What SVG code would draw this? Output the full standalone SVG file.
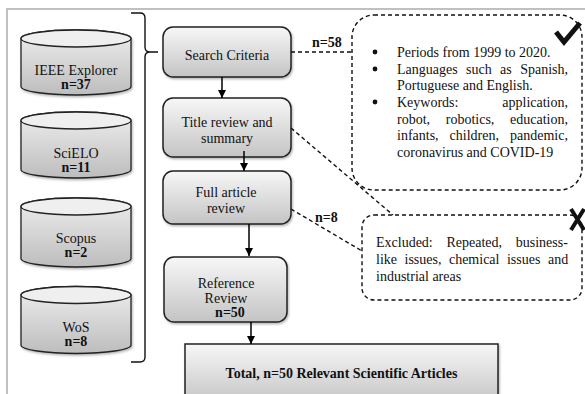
<svg xmlns="http://www.w3.org/2000/svg" width="585" height="394" viewBox="0 0 585 394">
<defs>
  <linearGradient id="gBox" x1="0" y1="0" x2="0" y2="1">
    <stop offset="0" stop-color="#f7f7f7"/>
    <stop offset="1" stop-color="#c4c4c4"/>
  </linearGradient>
  <linearGradient id="gCyl" x1="0" y1="0" x2="0" y2="1">
    <stop offset="0" stop-color="#eeeeee"/>
    <stop offset="1" stop-color="#bdbdbd"/>
  </linearGradient>
  <filter id="sh" x="-10%" y="-10%" width="130%" height="130%">
    <feDropShadow dx="1" dy="1.5" stdDeviation="1" flood-color="#000" flood-opacity="0.3"/>
  </filter>
  <marker id="ah" viewBox="0 0 10 10" refX="10" refY="5" markerWidth="8" markerHeight="8" markerUnits="userSpaceOnUse" orient="auto">
    <path d="M0,0 L10,5 L0,10 z" fill="#000"/>
  </marker>
  <style>
    text { font-family: "Liberation Serif", "Times New Roman", serif; font-size: 14px; fill: #111; }
    .b { font-weight: bold; }
    .c { text-anchor: middle; }
    .node { fill: url(#gBox); stroke: #222; stroke-width: 1.5; filter: url(#sh); }
    .cyl { fill: url(#gCyl); stroke: #222; stroke-width: 1.3; filter: url(#sh); }
    .cyltop { fill: #efefef; stroke: #222; stroke-width: 1.3; }
    .arrow { stroke: #000; stroke-width: 1.5; fill: none; marker-end: url(#ah); }
    .dash { stroke: #111; stroke-width: 1.4; fill: none; stroke-dasharray: 4 3; }
    .mark { stroke: #111; fill: none; stroke-linecap: butt; }
  </style>
</defs>
<rect width="585" height="394" fill="#fff"/>
<!-- frame -->
<path d="M7,400 V9 H590" fill="none" stroke="#c0c0c0" stroke-width="2"/>

<!-- databases -->
<g id="ieee">
  <path class="cyl" d="M21,38.5 V86.5 A55,8.5 0 0 0 131,86.5 V38.5 A55,8.5 0 0 0 21,38.5 z"/>
  <ellipse class="cyltop" cx="76" cy="38.5" rx="55" ry="8.5"/>
  <text class="c" x="76" y="75">IEEE Explorer</text>
  <text class="c b" x="76" y="89">n=37</text>
</g>
<g id="scielo">
  <path class="cyl" d="M21,120.5 V169.5 A55,8.5 0 0 0 131,169.5 V120.5 A55,8.5 0 0 0 21,120.5 z"/>
  <ellipse class="cyltop" cx="76" cy="120.5" rx="55" ry="8.5"/>
  <text class="c" x="76" y="158">SciELO</text>
  <text class="c b" x="76" y="172">n=11</text>
</g>
<g id="scopus">
  <path class="cyl" d="M21,206.5 V258.5 A55,8.5 0 0 0 131,258.5 V206.5 A55,8.5 0 0 0 21,206.5 z"/>
  <ellipse class="cyltop" cx="76" cy="206.5" rx="55" ry="8.5"/>
  <text class="c" x="76" y="243">Scopus</text>
  <text class="c b" x="76" y="257">n=2</text>
</g>
<g id="wos">
  <path class="cyl" d="M21,295 V345 A55,8.5 0 0 0 131,345 V295 A55,8.5 0 0 0 21,295 z"/>
  <ellipse class="cyltop" cx="76" cy="295" rx="55" ry="8.5"/>
  <text class="c" x="76" y="332">WoS</text>
  <text class="c b" x="76" y="346">n=8</text>
</g>

<!-- brace -->
<g id="brace">
  <path d="M131,13 H140 Q145,13 145,18 V47 Q145,52 150,52 H158 M150,52 Q145,52 145,57 V357 Q145,362 140,362 H131" fill="none" stroke="#111" stroke-width="1.4"/>
</g>

<!-- process nodes -->
<g id="search">
  <rect class="node" x="163" y="27" width="128" height="50" rx="10"/>
  <text class="c" x="227" y="60">Search Criteria</text>
</g>
<g id="title">
  <rect class="node" x="163" y="98" width="128" height="59" rx="10"/>
  <text class="c" x="227" y="127">Title review and</text>
  <text class="c" x="227" y="143">summary</text>
</g>
<g id="full">
  <rect class="node" x="163" y="171" width="128" height="53" rx="10"/>
  <text class="c" x="226" y="197">Full article</text>
  <text class="c" x="226" y="213">review</text>
</g>
<g id="reference">
  <rect class="node" x="164" y="257" width="123" height="65" rx="10"/>
  <text class="c" x="226" y="288">Reference</text>
  <text class="c" x="226" y="303">Review</text>
  <text class="c b" x="230" y="317">n=50</text>
</g>
<g id="total">
  <rect class="node" x="185" y="344" width="313" height="60" rx="0"/>
  <text class="c b" x="341.5" y="378">Total, n=50 Relevant Scientific Articles</text>
</g>

<!-- criteria box -->
<g id="criteria">
  <rect class="dash" x="352" y="15" width="230" height="175" rx="22"/>
  <path class="mark" d="M556,32 L564,42 L580,23" stroke-width="5"/>
  <circle cx="375" cy="52" r="2.4" fill="#111"/>
  <circle cx="375" cy="69" r="2.4" fill="#111"/>
  <circle cx="375" cy="102" r="2.4" fill="#111"/>
  <text x="397" y="57">Periods from 1999 to 2020.</text>
  <text x="397" y="73.7" word-spacing="4.9">Languages such as Spanish,</text>
  <text x="397" y="90.3">Portuguese and English.</text>
  <text x="397" y="107">Keywords:</text>
  <text x="568" y="107" text-anchor="end">application,</text>
  <text x="397" y="123.7" word-spacing="12.2">robot, robotics, education,</text>
  <text x="397" y="140.3" word-spacing="7.5">infants, children, pandemic,</text>
  <text x="397" y="157">coronavirus and COVID-19</text>
</g>

<!-- excluded box -->
<g id="excluded">
  <rect class="dash" x="362" y="215" width="220" height="85" rx="12"/>
  <path class="mark" d="M571,209 L584,230 M584,209 L571,230" stroke-width="4"/>
  <text x="376" y="247" word-spacing="10.2">Excluded: Repeated, business-</text>
  <text x="376" y="264" word-spacing="4">like issues, chemical issues and</text>
  <text x="376" y="281">industrial areas</text>
</g>

<!-- connectors -->
<g id="connectors">
  <line class="arrow" x1="222" y1="77" x2="222" y2="98"/>
  <line class="arrow" x1="244" y1="151" x2="244" y2="171"/>
  <line class="arrow" x1="249" y1="224" x2="249" y2="256"/>
  <line class="arrow" x1="251" y1="322" x2="251" y2="344"/>
  <line class="dash" x1="291" y1="52" x2="352" y2="52"/>
  <line class="dash" x1="291" y1="128" x2="393" y2="215"/>
  <line class="dash" x1="291" y1="209" x2="362" y2="251"/>
  <text class="b" x="312" y="47">n=58</text>
  <text class="b" x="315" y="222">n=8</text>
</g>
</svg>
